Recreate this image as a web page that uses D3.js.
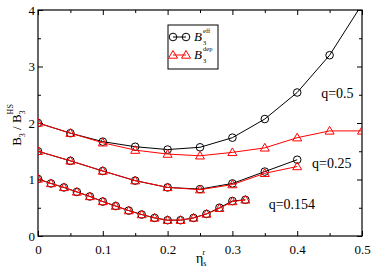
<!DOCTYPE html>
<html>
<head>
<meta charset="utf-8">
<script src="https://cdn.jsdelivr.net/npm/d3@7"></script>
<style>
  body { margin: 0; background: #fff; }
  svg text { font-family: "Liberation Serif", "Times New Roman", "DejaVu Serif", serif; }
</style>
</head>
<body>
<div id="chart"></div>
<script>
const WIDTH = 374, HEIGHT = 269;
const MARGINS = {top: 10, right: 12, bottom: 33, left: 38};

// eta values
const eta05 = [0, 0.05, 0.1, 0.15, 0.2, 0.25, 0.3, 0.35, 0.4, 0.45, 0.5];
const eta025 = [0, 0.05, 0.1, 0.15, 0.2, 0.25, 0.3, 0.35, 0.4];
const eta0154 = [0, 0.02, 0.04, 0.06, 0.08, 0.1, 0.12, 0.14, 0.16, 0.18, 0.2, 0.22, 0.24, 0.26, 0.28, 0.3, 0.32];

// q = 0.5
const eff05 = [2.0, 1.82, 1.67, 1.58, 1.53, 1.57, 1.74, 2.07, 2.54, 3.2, 4.1];
const dep05 = [2.0, 1.82, 1.65, 1.52, 1.45, 1.42, 1.48, 1.56, 1.74, 1.86, 1.86];
// q = 0.25
const eff025 = [1.5, 1.33, 1.15, 0.98, 0.86, 0.83, 0.93, 1.14, 1.35];
const dep025 = [1.5, 1.33, 1.15, 0.98, 0.86, 0.82, 0.91, 1.11, 1.23];
// q = 0.154
const eff0154 = [1.01, 0.93, 0.86, 0.78, 0.70, 0.61, 0.53, 0.45, 0.38, 0.32, 0.28, 0.28, 0.32, 0.39, 0.50, 0.62, 0.64];
const dep0154 = [1.01, 0.93, 0.86, 0.78, 0.70, 0.61, 0.53, 0.45, 0.38, 0.32, 0.28, 0.28, 0.32, 0.39, 0.49, 0.61, 0.64];

const xTicks = [0, 0.1, 0.2, 0.3, 0.4, 0.5];
const yTicks = [0, 1, 2, 3, 4];
const curveLabels = [
  {text: 'q=0.5', x: 0.437, y: 2.44},
  {text: 'q=0.25', x: 0.423, y: 1.2},
  {text: 'q=0.154', x: 0.356, y: 0.48}
];

const W = WIDTH - MARGINS.left - MARGINS.right;
const H = HEIGHT - MARGINS.top - MARGINS.bottom;

const xScale = d3.scaleLinear().domain([0, 0.5]).range([0, W]);
const yScale = d3.scaleLinear().domain([0, 4]).range([H, 0]);

const svg = d3.select('#chart').append('svg')
  .attr('width', WIDTH).attr('height', HEIGHT)
  .attr('font-family', '"Liberation Serif", serif');

svg.append('defs').append('clipPath').attr('id', 'clip')
  .append('rect').attr('width', W).attr('height', H);

const chart = svg.append('g')
  .attr('transform', `translate(${MARGINS.left},${MARGINS.top})`);

// axes, ticks pointing inward
function drawAxis(axis, tr) {
  chart.append('g')
    .attr('transform', tr)
    .call(axis)
    .attr('font-family', null)
    .call(g => g.select('.domain').remove())
    .call(g => g.selectAll('line').attr('stroke', '#000'));
}
const minorX = d3.range(0.05, 0.5, 0.1);
const minorY = d3.range(0.5, 4, 1);

drawAxis(d3.axisBottom(xScale).tickValues(xTicks).tickSize(-5).tickPadding(9).tickFormat(d3.format('')), `translate(0,${H})`);
drawAxis(d3.axisBottom(xScale).tickValues(minorX).tickSize(-3).tickFormat(''), `translate(0,${H})`);
drawAxis(d3.axisTop(xScale).tickValues(xTicks).tickSize(-5).tickFormat(''), 'translate(0,0)');
drawAxis(d3.axisTop(xScale).tickValues(minorX).tickSize(-3).tickFormat(''), 'translate(0,0)');
drawAxis(d3.axisLeft(yScale).tickValues(yTicks).tickSize(-5).tickPadding(3).tickFormat(d3.format('d')), 'translate(0,0)');
drawAxis(d3.axisLeft(yScale).tickValues(minorY).tickSize(-3).tickFormat(''), 'translate(0,0)');
drawAxis(d3.axisRight(yScale).tickValues(yTicks).tickSize(-5).tickFormat(''), `translate(${W},0)`);
drawAxis(d3.axisRight(yScale).tickValues(minorY).tickSize(-3).tickFormat(''), `translate(${W},0)`);

chart.selectAll('.tick text')
  .attr('font-size', 13)
  .attr('fill', '#000');

chart.append('rect')
  .attr('width', W).attr('height', H)
  .attr('fill', 'none').attr('stroke', '#000').attr('stroke-width', 1.2);

// series
const series = [
  {eta: eta05, vals: eff05, color: '#000', sym: 'circle'},
  {eta: eta05, vals: dep05, color: '#ff0000', sym: 'tri'},
  {eta: eta025, vals: eff025, color: '#000', sym: 'circle'},
  {eta: eta025, vals: dep025, color: '#ff0000', sym: 'tri'},
  {eta: eta0154, vals: eff0154, color: '#000', sym: 'circle'},
  {eta: eta0154, vals: dep0154, color: '#ff0000', sym: 'tri'}
];

const line = d3.line()
  .x(d => xScale(d[0]))
  .y(d => yScale(d[1]));

const plot = chart.append('g').attr('clip-path', 'url(#clip)');

const triPath = 'M0,-4.5L4.5,3.2L-4.5,3.2Z';

function drawMarkers(g, s, pts) {
  if (s.sym === 'circle') {
    g.selectAll('circle').data(pts).enter().append('circle')
      .attr('cx', d => xScale(d[0])).attr('cy', d => yScale(d[1]))
      .attr('r', 3.8)
      .attr('fill', 'none').attr('stroke', s.color).attr('stroke-width', 1);
  } else {
    g.selectAll('path.m').data(pts).enter().append('path')
      .attr('class', 'm')
      .attr('transform', d => `translate(${xScale(d[0])},${yScale(d[1])})`)
      .attr('d', triPath)
      .attr('fill', 'none').attr('stroke', s.color).attr('stroke-width', 1);
  }
}

series.forEach(s => {
  const pts = s.eta.map((e, i) => [e, s.vals[i]]);
  const g = plot.append('g');
  g.append('path').datum(pts)
    .attr('d', line)
    .attr('fill', 'none')
    .attr('stroke', s.color)
    .attr('stroke-width', 1);
  drawMarkers(g, s, pts);
});

// curve labels
chart.selectAll('.qlabel').data(curveLabels).enter().append('text')
  .attr('class', 'qlabel')
  .attr('x', d => xScale(d.x))
  .attr('y', d => yScale(d.y))
  .attr('font-size', 14)
  .text(d => d.text);

// legend
const legend = chart.append('g').attr('transform', 'translate(130,15)');
legend.append('rect')
  .attr('width', 50).attr('height', 44)
  .attr('fill', '#fff').attr('stroke', '#000').attr('stroke-width', 1);
const legItems = [
  {color: '#000', sym: 'circle', sup: 'eff', y: 12},
  {color: '#ff0000', sym: 'tri', sup: 'dep', y: 30}
];
legItems.forEach(it => {
  const g = legend.append('g').attr('transform', `translate(0,${it.y})`);
  g.append('line').attr('x1', 5).attr('x2', 18).attr('stroke', it.color).attr('stroke-width', 1);
  [5, 18].forEach(x => {
    if (it.sym === 'circle') {
      g.append('circle').attr('cx', x).attr('r', 3.8)
        .attr('fill', 'none').attr('stroke', it.color);
    } else {
      g.append('path').attr('transform', `translate(${x},0)`).attr('d', triPath)
        .attr('fill', 'none').attr('stroke', it.color);
    }
  });
  g.append('text').attr('x', 26).attr('y', 4).attr('font-size', 13)
    .attr('font-style', 'italic').text('B');
  g.append('text').attr('x', 35).attr('y', -4).attr('font-size', 6.5).text(it.sup);
  g.append('text').attr('x', 35).attr('y', 8).attr('font-size', 6.5).text('3');
});

// axis titles
const yt = svg.append('text')
  .attr('transform', `translate(21,${MARGINS.top + H / 2 + 2}) rotate(-90)`)
  .attr('text-anchor', 'middle')
  .attr('font-size', 13);
yt.append('tspan').text('B');
yt.append('tspan').attr('dy', 4).attr('font-size', 8).text('3');
yt.append('tspan').attr('dy', -4).text(' / B');
yt.append('tspan').attr('dy', 4).attr('font-size', 8).text('3');
yt.append('tspan').attr('dy', -12).attr('dx', -4).attr('font-size', 8).text('HS');

const xt = svg.append('text')
  .attr('x', MARGINS.left + xScale(0.25) - 4)
  .attr('y', HEIGHT - 6)
  .attr('font-size', 14);
xt.append('tspan').text('η');
xt.append('tspan').attr('dy', 3).attr('font-size', 8).text('s');
xt.append('tspan').attr('dx', -4).attr('dy', -11).attr('font-size', 8).text('r');
</script>
</body>
</html>
